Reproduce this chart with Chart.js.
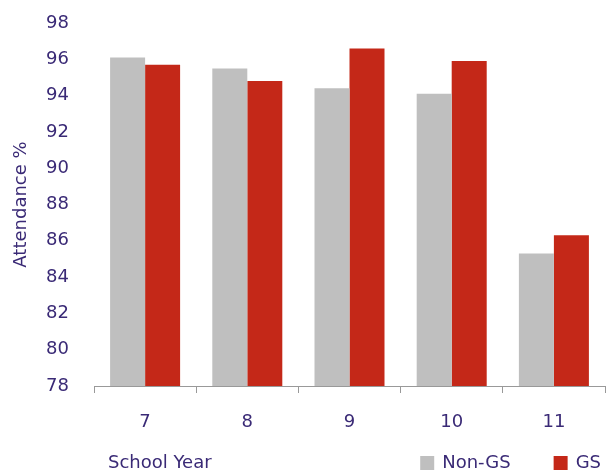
<!DOCTYPE html>
<html>
<head>
<meta charset="utf-8">
<script src="https://cdn.jsdelivr.net/npm/chart.js@4/dist/chart.umd.min.js"></script>
<style>
  html, body { margin: 0; padding: 0; background: #fff; }
  #wrap { width: 613px; height: 473px; position: relative; }
</style>
</head>
<body>
<div id="wrap"><canvas id="chart" width="613" height="473"></canvas></div>
<script>
// chart data
const years = ["7", "8", "9", "10", "11"];
const nonGS = [96.1, 95.5, 94.4, 94.1, 85.3];
const gs = [95.7, 94.8, 96.6, 95.9, 86.3];

const textColor = "#3a2a76";
const fontFamily = "'DejaVu Sans', sans-serif";
const font18 = { family: fontFamily, size: 18 };

// bottom row: "School Year" caption on the left, legend on the right
const bottomRow = {
  id: "bottomRow",
  afterDraw(chart) {
    const { ctx, chartArea } = chart;
    const y = chart.height - 10;
    ctx.save();
    ctx.fillStyle = textColor;
    ctx.font = "18px " + fontFamily;
    ctx.textBaseline = "middle";
    ctx.fillText("School Year", chartArea.left + 14, y);

    // legend items, laid out from the right edge
    let x = chartArea.right - 4;
    const sets = chart.data.datasets.slice().reverse();
    sets.forEach((ds) => {
      const w = ctx.measureText(ds.label).width;
      ctx.fillStyle = textColor;
      ctx.fillText(ds.label, x - w, y);
      const boxX = x - w - 8 - 14;
      ctx.fillStyle = ds.backgroundColor;
      ctx.fillRect(boxX, y - 7, 14, 14);
      x = boxX - 43;
    });
    ctx.restore();
  },
};

new Chart(document.getElementById("chart"), {
  type: "bar",
  data: {
    labels: years,
    datasets: [
      { label: "Non-GS", data: nonGS, backgroundColor: "#bfbfbf" },
      { label: "GS", data: gs, backgroundColor: "#c42818" },
    ],
  },
  options: {
    responsive: false,
    animation: false,
    datasets: { bar: { categoryPercentage: 0.685, barPercentage: 1.0 } },
    layout: { padding: { top: 0, right: 8, left: 0, bottom: 40 } },
    plugins: {
      legend: { display: false },
      tooltip: { enabled: false },
    },
    scales: {
      x: {
        afterFit(scale) {
          scale.height = 47;
        },
        grid: {
          offset: true,
          drawOnChartArea: false,
          drawTicks: true,
          tickLength: 7,
          color: "#999999",
        },
        border: { color: "#999999" },
        ticks: { color: textColor, font: font18, padding: 19 },
      },
      y: {
        min: 78,
        max: 98,
        afterFit(scale) {
          scale.width = 94;
          scale.paddingTop = 23;
          scale.paddingBottom = 0;
        },
        ticks: { stepSize: 2, color: textColor, font: font18, padding: 25 },
        grid: { display: false, drawTicks: false },
        border: { display: false },
        title: {
          display: true,
          text: "Attendance %",
          color: textColor,
          font: font18,
          padding: { top: 11, bottom: 10 },
        },
      },
    },
  },
  plugins: [bottomRow],
});
</script>
</body>
</html>
